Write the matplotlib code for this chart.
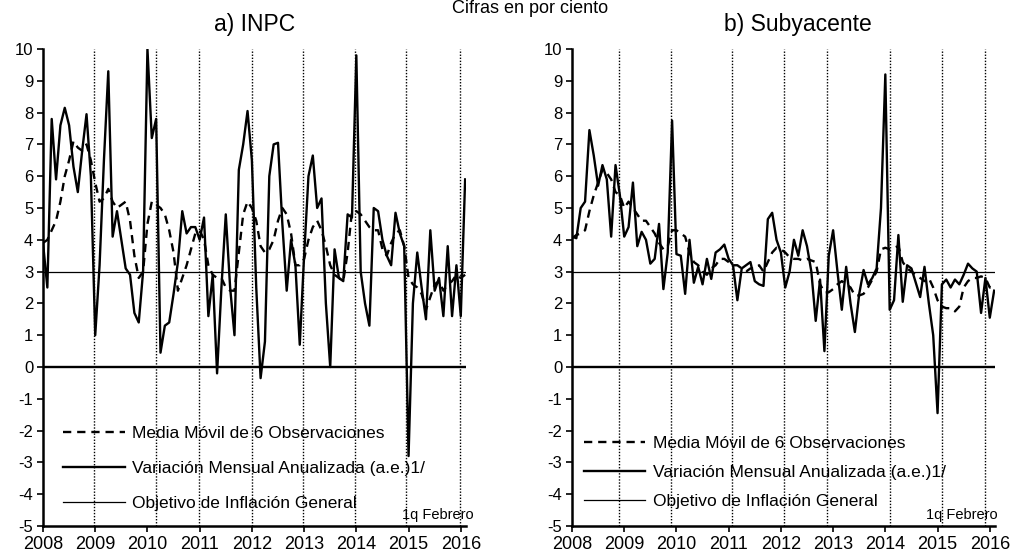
import matplotlib
matplotlib.use("Agg")
import matplotlib.pyplot as plt
import numpy as np

plt.rcParams['font.family'] = ['Liberation Sans', 'DejaVu Sans']
plt.rcParams['axes.unicode_minus'] = False

# Monthly observations, Jan-2008 .. 1q Feb-2016
start_year = 2008
inpc_var = [3.9, 2.5, 7.8, 5.9, 7.6, 8.15, 7.6, 6.3, 5.5, 6.8, 7.95, 6.0,
            1.0, 3.2, 6.5, 9.3, 4.1, 4.9, 4.0, 3.1, 2.9, 1.7, 1.4, 3.0,
            10.0, 7.2, 7.8, 0.45, 1.3, 1.4, 2.3, 3.3, 4.9, 4.2, 4.4, 4.4,
            4.0, 4.7, 1.6, 2.9, -0.2, 2.5, 4.8, 2.5, 1.0, 6.2, 7.0, 8.05,
            6.5, 2.5, -0.35, 0.8, 6.0, 7.0, 7.05, 4.5, 2.4, 4.0, 3.2, 0.7,
            3.5, 6.0, 6.65, 5.0, 5.3, 2.0, 0.0, 3.7, 2.8, 2.7, 4.8, 4.7,
            9.8, 3.0, 2.0, 1.3, 5.0, 4.9, 4.0, 3.5, 3.2, 4.85, 4.2, 3.8,
            -2.8, 2.0, 3.6, 2.5, 1.5, 4.3, 2.4, 2.8, 1.6, 3.8, 1.6, 3.2,
            1.6, 5.9]
inpc_ma = [3.9, 4.0, 4.3, 4.6, 5.2, 6.0, 6.5, 7.1, 6.9, 6.8, 7.0, 6.5,
           5.8, 5.2, 5.3, 5.6, 5.2, 5.0, 5.1, 5.2, 4.6, 3.5, 2.8, 3.0,
           4.5, 5.2, 5.1, 5.0, 4.8, 4.3, 3.6, 2.4, 2.8, 3.2, 3.7, 4.2,
           4.3, 4.0, 3.2, 2.9, 2.8, 2.8, 2.5, 2.4, 2.4, 3.6, 4.8, 5.2,
           5.0, 4.6, 3.8, 3.6, 3.7, 4.0, 4.6, 5.0, 4.8, 4.2, 3.2, 3.2,
           3.4, 4.0, 4.4, 4.6, 4.3, 3.8, 3.2, 2.9, 2.8, 2.7, 3.6, 4.9,
           4.9, 4.8, 4.6, 4.4, 4.3, 4.3, 3.7, 3.5, 3.9, 4.2, 4.3, 3.8,
           2.8, 2.6, 2.5, 2.3, 1.8, 2.2, 2.6, 2.7, 2.4, 2.6, 2.7, 2.9,
           2.8, 2.9]
sub_var = [4.1, 4.05, 5.0, 5.2, 7.45, 6.65, 5.7, 6.35, 5.9, 4.1, 6.35, 5.4,
           4.1, 4.4, 5.8, 3.8, 4.25, 4.0, 3.25, 3.4, 4.5, 2.45, 3.6, 7.75,
           3.55, 3.5, 2.3, 4.0, 2.65, 3.15, 2.6, 3.4, 2.77, 3.6, 3.7, 3.85,
           3.4, 3.2, 2.1, 3.1, 3.2, 3.3, 2.7, 2.6, 2.55, 4.65, 4.85, 4.0,
           3.6, 2.5, 3.0, 4.0, 3.5, 4.3, 3.8, 3.0, 1.45, 2.75, 0.5, 3.5,
           4.3, 3.0, 1.8, 3.15, 2.0, 1.1, 2.3, 3.05, 2.6, 2.8, 3.1, 5.0,
           9.2, 1.8, 2.1, 4.15, 2.05, 3.2, 3.1, 2.65, 2.2, 3.15, 2.0, 1.0,
           -1.45, 2.6, 2.75, 2.5, 2.75, 2.6, 2.9, 3.25, 3.1, 3.0, 1.7, 2.8,
           1.55, 2.4]
sub_ma = [4.05, 4.15, 4.2, 4.3, 4.9, 5.4, 5.8, 6.2, 6.1, 5.9, 5.5, 5.4,
          5.0, 5.2, 5.0, 4.8, 4.6, 4.6, 4.4, 4.2, 3.9, 3.7, 3.8, 4.3,
          4.3, 4.2, 4.1, 3.6, 3.3, 3.2, 3.0, 2.9, 3.1, 3.2, 3.4, 3.4,
          3.3, 3.2, 3.2, 3.1, 3.0, 3.1, 3.1, 3.2, 3.0, 3.3, 3.6, 3.75,
          3.7, 3.6, 3.45, 3.4, 3.4, 3.35, 3.4, 3.35, 3.3, 2.6, 2.35, 2.35,
          2.45, 2.6, 2.7, 2.6, 2.5, 2.25, 2.25, 2.3, 2.5, 2.75, 3.0, 3.7,
          3.75, 3.7, 3.75, 3.8, 3.3, 3.1, 3.0, 2.9, 2.8, 2.7, 2.8, 2.5,
          2.1, 1.9, 1.85, 1.85, 1.75, 1.9, 2.5, 2.7, 2.8, 2.8, 2.85, 2.8,
          2.5, 2.5]
target = 3.0
year_ticks = [2008, 2009, 2010, 2011, 2012, 2013, 2014, 2015, 2016]
y_ticks = list(range(-5, 11))
labels = ['Media Móvil de 6 Observaciones',
          'Variación Mensual Anualizada (a.e.)1/',
          'Objetivo de Inflación General']
titles = ['a) INPC', 'b) Subyacente']
# dotted year separators as drawn in each panel
vlines_a = [2008.975, 2010.16, 2010.98, 2012.0, 2012.97, 2013.98, 2014.96, 2015.99]
vlines_b = [2008.90, 2009.89, 2011.06, 2012.06, 2012.88, 2014.09, 2015.08, 2015.90]

W, H = 1011, 558
fig = plt.figure(figsize=(W / 100, H / 100), dpi=100)

def make_axes(x0, x1):
    return fig.add_axes([x0 / W, 1 - 526 / H, (x1 - x0) / W, 477 / H])

axA = make_axes(43, 466)
axB = make_axes(572, 995)

panels = [(axA, inpc_var, inpc_ma, vlines_a, titles[0], 0.5, (0.047, 0.21), 1.15, 1.017),
          (axB, sub_var, sub_ma, vlines_b, titles[1], 0.535, (0.028, 0.188), 0.78, 1.007)]

for ax, var, ma, vl, title, tx, anchor, lspace, fx in panels:
    n = len(var)
    x = start_year + np.arange(n) / 12.0
    for v in vl:
        ax.axvline(v, color='black', linestyle=(0, (1, 1.2)), lw=1.0, zorder=1)
    ax.axhline(0, color='black', lw=1.7, zorder=2)
    l_ma, = ax.plot(x, ma, color='black', lw=1.7, dashes=(3.5, 2.5), zorder=3)
    l_var, = ax.plot(x, var, color='black', lw=1.7, zorder=4)
    l_tg = ax.axhline(target, color='black', lw=0.9, zorder=2)
    ax.set_xlim(2008, 2016.1)
    ax.set_ylim(-5, 10)
    ax.set_xticks(year_ticks)
    ax.set_xticklabels([str(y) for y in year_ticks], fontsize=13)
    ax.set_yticks(y_ticks)
    ax.set_yticklabels([str(t) for t in y_ticks], fontsize=12)
    ax.tick_params(axis='both', direction='out', length=4, width=1.2, pad=3)
    for s in ['top', 'right']:
        ax.spines[s].set_visible(False)
    ax.spines['left'].set_linewidth(1.8)
    ax.spines['bottom'].set_linewidth(1.8)
    ax.text(tx, 1.052, title, transform=ax.transAxes, ha='center', va='center',
            fontsize=16.5)
    ax.legend([l_ma, l_var, l_tg], labels, loc='upper left',
              bbox_to_anchor=anchor, frameon=False, fontsize=12.5,
              handlelength=3.55, handletextpad=0.45, labelspacing=lspace,
              borderpad=0, borderaxespad=0)
    ax.text(fx, 0.023, '1q Febrero', transform=ax.transAxes, ha='right',
            va='center', fontsize=10.5)

fig.text(530 / W, 1.0, 'Cifras en por ciento', ha='center', va='top',
         fontsize=13)

fig.savefig('out.png', dpi=100)
